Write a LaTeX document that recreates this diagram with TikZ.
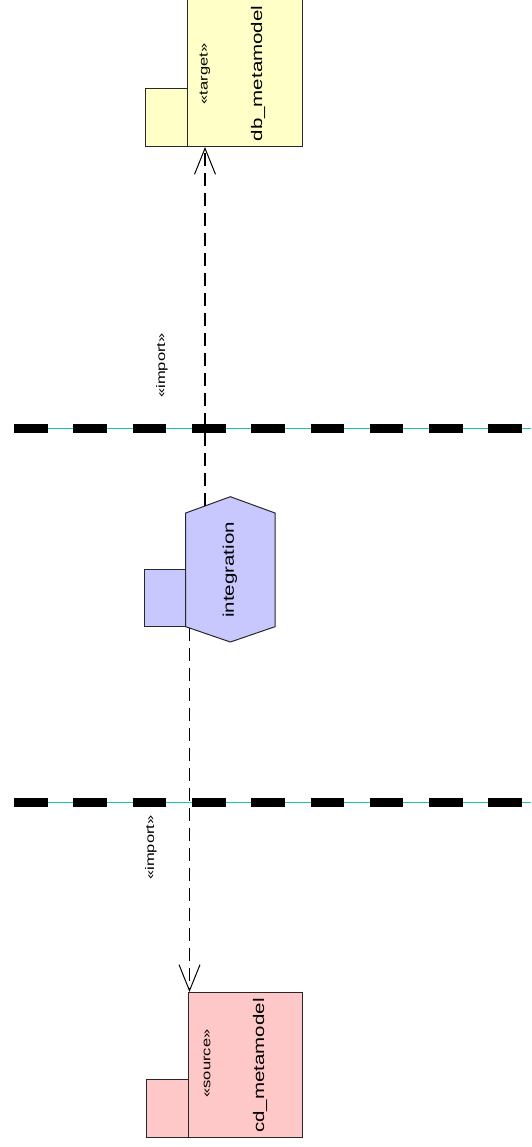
\documentclass[tikz,border=0pt]{standalone}
\usepackage{fontspec}
\setmainfont{Liberation Sans}
\usetikzlibrary{arrows.meta}

\definecolor{pkgyellow}{RGB}{255,255,200}
\definecolor{pkgblue}{RGB}{200,200,255}
\definecolor{pkgpink}{RGB}{255,200,200}
\definecolor{lanecyan}{RGB}{20,200,170}
\definecolor{pkgline}{RGB}{40,40,40}

\begin{document}
\begin{tikzpicture}[x=1pt,y=-1pt,
        pkgbox/.style={draw=pkgline, line width=1pt, inner sep=0pt, outer sep=0pt},
        pkgname/.style={rotate=90, yscale=0.75, inner sep=0pt, font=\fontsize{20.5}{24}\selectfont},
        stereo/.style={rotate=90, yscale=0.75, inner sep=0pt, font=\fontsize{16.5}{20}\selectfont},
        dep/.style={line width=1.3pt, dash pattern=on 13pt off 7pt, -{Straight Barb[length=26pt,width=21pt,line width=1pt]}}]
    \useasboundingbox (0,0) rectangle (531,1147);

    % swimlane dividers
    \foreach \ly in {428.3,802.7} {
        \draw[lanecyan, line width=1pt] (14,\ly) -- (531,\ly);
        \draw[black, line width=8.5pt, dash pattern=on 33.6pt off 25.7pt] (14,\ly) -- (531,\ly);
    }

    % target package (top)
    \node[pkgbox, fill=pkgyellow, minimum width=42.3, minimum height=58] (dbtab) at (166.85,118) {};
    \node[pkgbox, fill=pkgyellow, minimum width=115, minimum height=148] (db) at (245.2,73) {};
    \node[stereo] (dbst) at (205,74) {«target»};
    \node[pkgname] (dbname) at (258,73.5) {db\_metamodel};

    % integration package (middle)
    \node[pkgbox, fill=pkgblue, minimum width=42, minimum height=57.7] (integtab) at (165,597.85) {};
    \node[inner sep=0pt, outer sep=0pt, minimum width=89.3, minimum height=145.3] (integ) at (230.35,569.35) {};
    \draw[pkgline, line width=1pt, fill=pkgblue]
        ([yshift=-16.3pt]integ.north west) -- (integ.north) -- ([yshift=-16.3pt]integ.north east)
        -- ([yshift=15.3pt]integ.south east) -- (integ.south) -- ([yshift=15.3pt]integ.south west) -- cycle;
    \node[pkgname] (integname) at (230,570) {integration};

    % source package (bottom)
    \node[pkgbox, fill=pkgpink, minimum width=42, minimum height=58.7] (cdtab) at (167,1108.35) {};
    \node[pkgbox, fill=pkgpink, minimum width=114.7, minimum height=145.7] (cd) at (245.35,1064.85) {};
    \node[stereo] (cdst) at (207,1063.5) {«source»};
    \node[pkgname] (cdname) at (260,1065.5) {cd\_metamodel};

    % import dependencies
    \draw[dep] ([xshift=-25.35pt,yshift=-9.2pt]integ.north) -- ([xshift=17.3pt]db.south west);
    \draw[dep] ([xshift=-40.85pt,yshift=13.8pt]integ.south) -- ([xshift=1.5pt]cd.north west);
    \node[stereo] (imptop) at (162,365.5) {«import»};
    \node[stereo] (impbot) at (151,847.5) {«import»};
\end{tikzpicture}
\end{document}
